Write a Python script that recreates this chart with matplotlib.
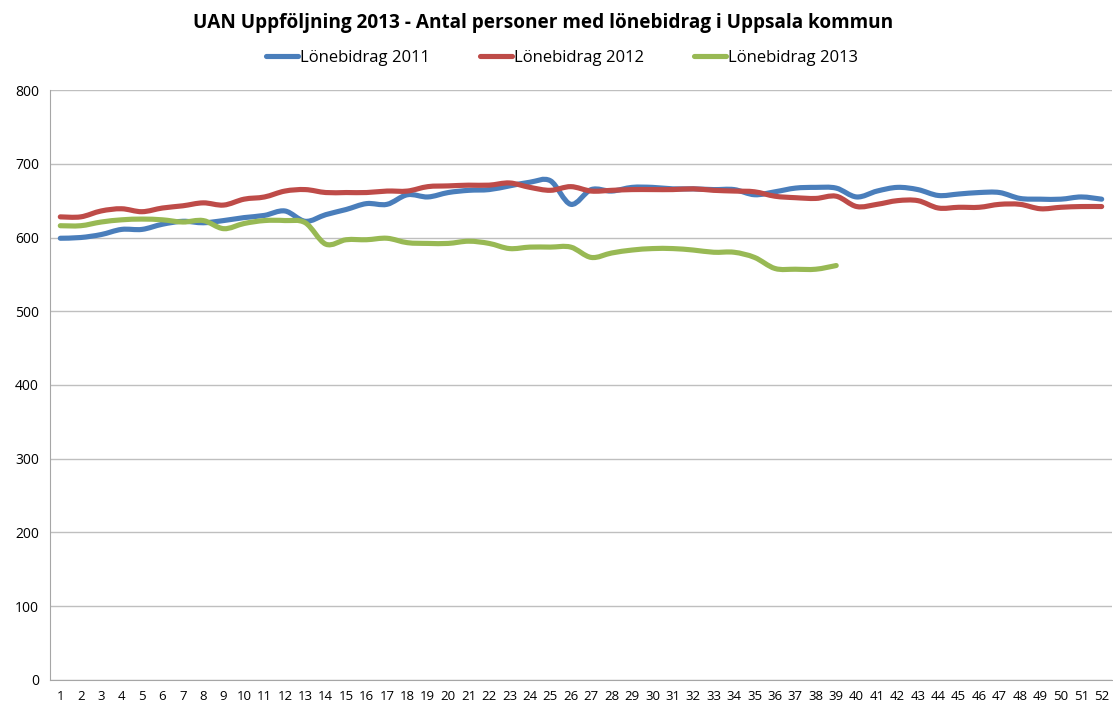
import numpy as np
import matplotlib.pyplot as plt
from matplotlib.path import Path
from matplotlib.patches import PathPatch
from matplotlib.lines import Line2D

plt.rcParams['font.family'] = ['Open Sans', 'DejaVu Sans']

weeks = list(range(1, 53))

lb_2011 = [599, 600, 604, 611, 611, 618, 622, 620, 623, 627, 630, 636, 622, 631,
           638, 646, 645, 658, 655, 661, 664, 665, 670, 675, 677, 645, 665, 663,
           668, 668, 666, 666, 665, 665, 658, 662, 667, 668, 667, 655, 663, 668,
           665, 657, 659, 661, 661, 653, 652, 652, 655, 652]

lb_2012 = [628, 628, 636, 639, 635, 640, 643, 647, 644, 652, 655, 663, 665, 661,
           661, 661, 663, 663, 669, 670, 671, 671, 674, 668, 664, 669, 663, 664,
           665, 665, 665, 666, 664, 663, 662, 656, 654, 653, 656, 642, 645, 650,
           650, 640, 641, 641, 645, 645, 639, 641, 642, 642]

lb_2013 = [616, 616, 621, 624, 625, 624, 621, 623, 612, 619, 623, 623, 620, 591,
           597, 597, 599, 593, 592, 592, 595, 592, 585, 587, 587, 587, 573, 579,
           583, 585, 585, 583, 580, 580, 573, 558, 557, 557, 562]

labels = ['Lönebidrag 2011', 'Lönebidrag 2012', 'Lönebidrag 2013']
colors = ['#4a7ebb', '#be4b48', '#98b954']


def smooth_path(x, y):
    # Excel-style smoothed line: cubic Bezier through every point
    p = np.column_stack([x, y]).astype(float)
    n = len(p)
    verts = [p[0]]
    codes = [Path.MOVETO]
    for i in range(n - 1):
        p0 = p[i - 1] if i > 0 else p[i]
        p3 = p[i + 2] if i + 2 < n else p[i + 1]
        c1 = p[i] + (p[i + 1] - p0) / 6
        c2 = p[i + 1] - (p3 - p[i]) / 6
        verts += [c1, c2, p[i + 1]]
        codes += [Path.CURVE4] * 3
    return Path(verts, codes)


fig = plt.figure(figsize=(11.13, 7.09), dpi=100)
ax = fig.add_axes([0.045, 0.041, 0.954, 0.832])

handles = []
for data, c, lab in zip([lb_2011, lb_2012, lb_2013], colors, labels):
    path = smooth_path(weeks[:len(data)], data)
    ax.add_patch(PathPatch(path, facecolor='none', edgecolor=c, lw=3.7,
                           capstyle='round', joinstyle='round', zorder=3))
    handles.append(Line2D([], [], color=c, lw=3.7, solid_capstyle='round'))

ax.set_xlim(0.5, 52.5)
ax.set_ylim(0, 800)
ax.set_xticks(weeks)
ax.set_xticklabels([str(w) for w in weeks], fontsize=9.5)
ax.set_yticks(range(0, 801, 100))
ax.tick_params(axis='y', labelsize=10, length=0, pad=8)
ax.tick_params(axis='x', length=0, pad=7)
ax.grid(axis='y', color='#bfbfbf', lw=1)
ax.set_axisbelow(True)
for s in ['top', 'right']:
    ax.spines[s].set_visible(False)
for s in ['left', 'bottom']:
    ax.spines[s].set_color('#a6a6a6')

fig.text(0.488, 0.968, 'UAN Uppföljning 2013 - Antal personer med lönebidrag i Uppsala kommun',
         ha='center', va='center', fontsize=13.7, fontweight='bold')
fig.legend(handles, labels, loc='center', bbox_to_anchor=(0.505, 0.918), ncol=3,
           frameon=False, fontsize=12, handlelength=1.9, handletextpad=0.15,
           columnspacing=3.0)

fig.savefig('out.png', dpi=100)
